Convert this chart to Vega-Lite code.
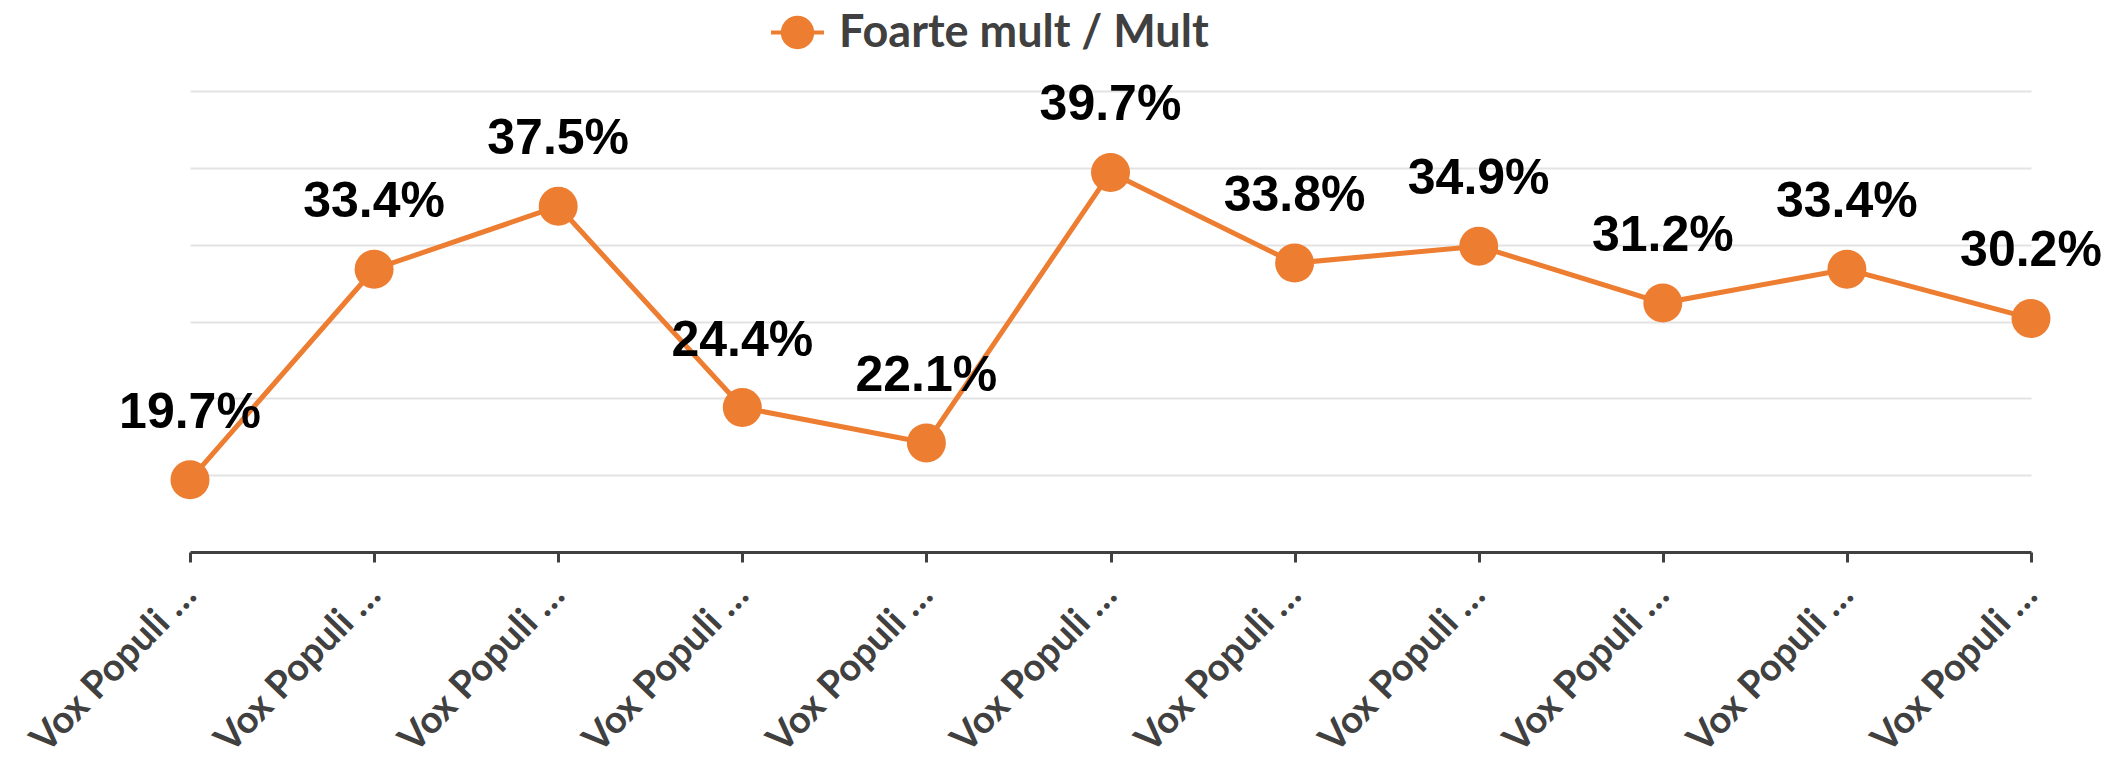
{
  "$schema": "https://vega.github.io/schema/vega-lite/v6.json",
  "width": 1841,
  "height": 461,
  "autosize": {"type": "none"},
  "padding": {"left": 190, "top": 91, "right": 92, "bottom": 222},
  "background": "white",
  "config": {"view": {"stroke": null}},
  "data": {
    "values": [
      {"wave": "Vox Populi 01", "series": "Foarte mult / Mult", "value": 0.197},
      {"wave": "Vox Populi 02", "series": "Foarte mult / Mult", "value": 0.334},
      {"wave": "Vox Populi 03", "series": "Foarte mult / Mult", "value": 0.375},
      {"wave": "Vox Populi 04", "series": "Foarte mult / Mult", "value": 0.244},
      {"wave": "Vox Populi 05", "series": "Foarte mult / Mult", "value": 0.221},
      {"wave": "Vox Populi 06", "series": "Foarte mult / Mult", "value": 0.397},
      {"wave": "Vox Populi 07", "series": "Foarte mult / Mult", "value": 0.338},
      {"wave": "Vox Populi 08", "series": "Foarte mult / Mult", "value": 0.349},
      {"wave": "Vox Populi 09", "series": "Foarte mult / Mult", "value": 0.312},
      {"wave": "Vox Populi 10", "series": "Foarte mult / Mult", "value": 0.334},
      {"wave": "Vox Populi 11", "series": "Foarte mult / Mult", "value": 0.302}
    ]
  },
  "encoding": {
    "x": {
      "field": "wave",
      "type": "ordinal",
      "sort": null,
      "scale": {"type": "point", "padding": 0},
      "axis": {
        "title": null,
        "labelExpr": "substring(datum.label, 0, 11) + '…'",
        "labelAngle": -46,
        "labelAlign": "right",
        "labelBaseline": "middle",
        "labelFont": "Lato",
        "labelFontWeight": "bold",
        "labelFontSize": 38,
        "labelLimit": 0,
        "labelColor": "#404040",
        "labelPadding": 27,
        "domainColor": "#404040",
        "domainWidth": 3,
        "tickColor": "#404040",
        "tickWidth": 3,
        "tickSize": 10,
        "grid": false
      }
    },
    "y": {
      "field": "value",
      "type": "quantitative",
      "scale": {"domain": [0.15, 0.45], "nice": false, "zero": false},
      "axis": {
        "title": null,
        "labels": false,
        "ticks": false,
        "domain": false,
        "values": [0.15, 0.2, 0.25, 0.3, 0.35, 0.4, 0.45],
        "grid": true,
        "gridColor": "#E3E3E3",
        "gridWidth": 2
      }
    }
  },
  "layer": [
    {
      "mark": {"type": "line", "strokeWidth": 5},
      "encoding": {
        "color": {
          "field": "series",
          "type": "nominal",
          "scale": {"range": ["#ED7D31"]},
          "legend": {
            "title": null,
            "orient": "none",
            "legendX": 585,
            "legendY": -81,
            "padding": 0,
            "symbolType": "M-1.8,0L-1,0M1,0L1.8,0M-1,0A1,1 0 1,1 1,0A1,1 0 1,1 -1,0Z",
            "symbolSize": 864,
            "symbolStrokeWidth": 4,
            "symbolFillColor": "#ED7D31",
            "symbolStrokeColor": "#ED7D31",
            "labelFont": "Lato",
            "labelFontWeight": "bold",
            "labelFontSize": 45,
            "labelLimit": 0,
            "labelColor": "#404040",
            "labelOffset": 19
          }
        }
      }
    },
    {
      "mark": {"type": "point", "filled": true, "size": 1520, "opacity": 1},
      "encoding": {
        "color": {"field": "series", "type": "nominal", "scale": {"range": ["#ED7D31"]}}
      }
    },
    {
      "mark": {
        "type": "text",
        "font": "Liberation Sans",
        "fontWeight": "bold",
        "fontSize": 50,
        "baseline": "middle",
        "dy": -67,
        "color": "#000000"
      },
      "encoding": {
        "text": {"field": "value", "type": "quantitative", "format": ".1%"}
      }
    }
  ]
}
